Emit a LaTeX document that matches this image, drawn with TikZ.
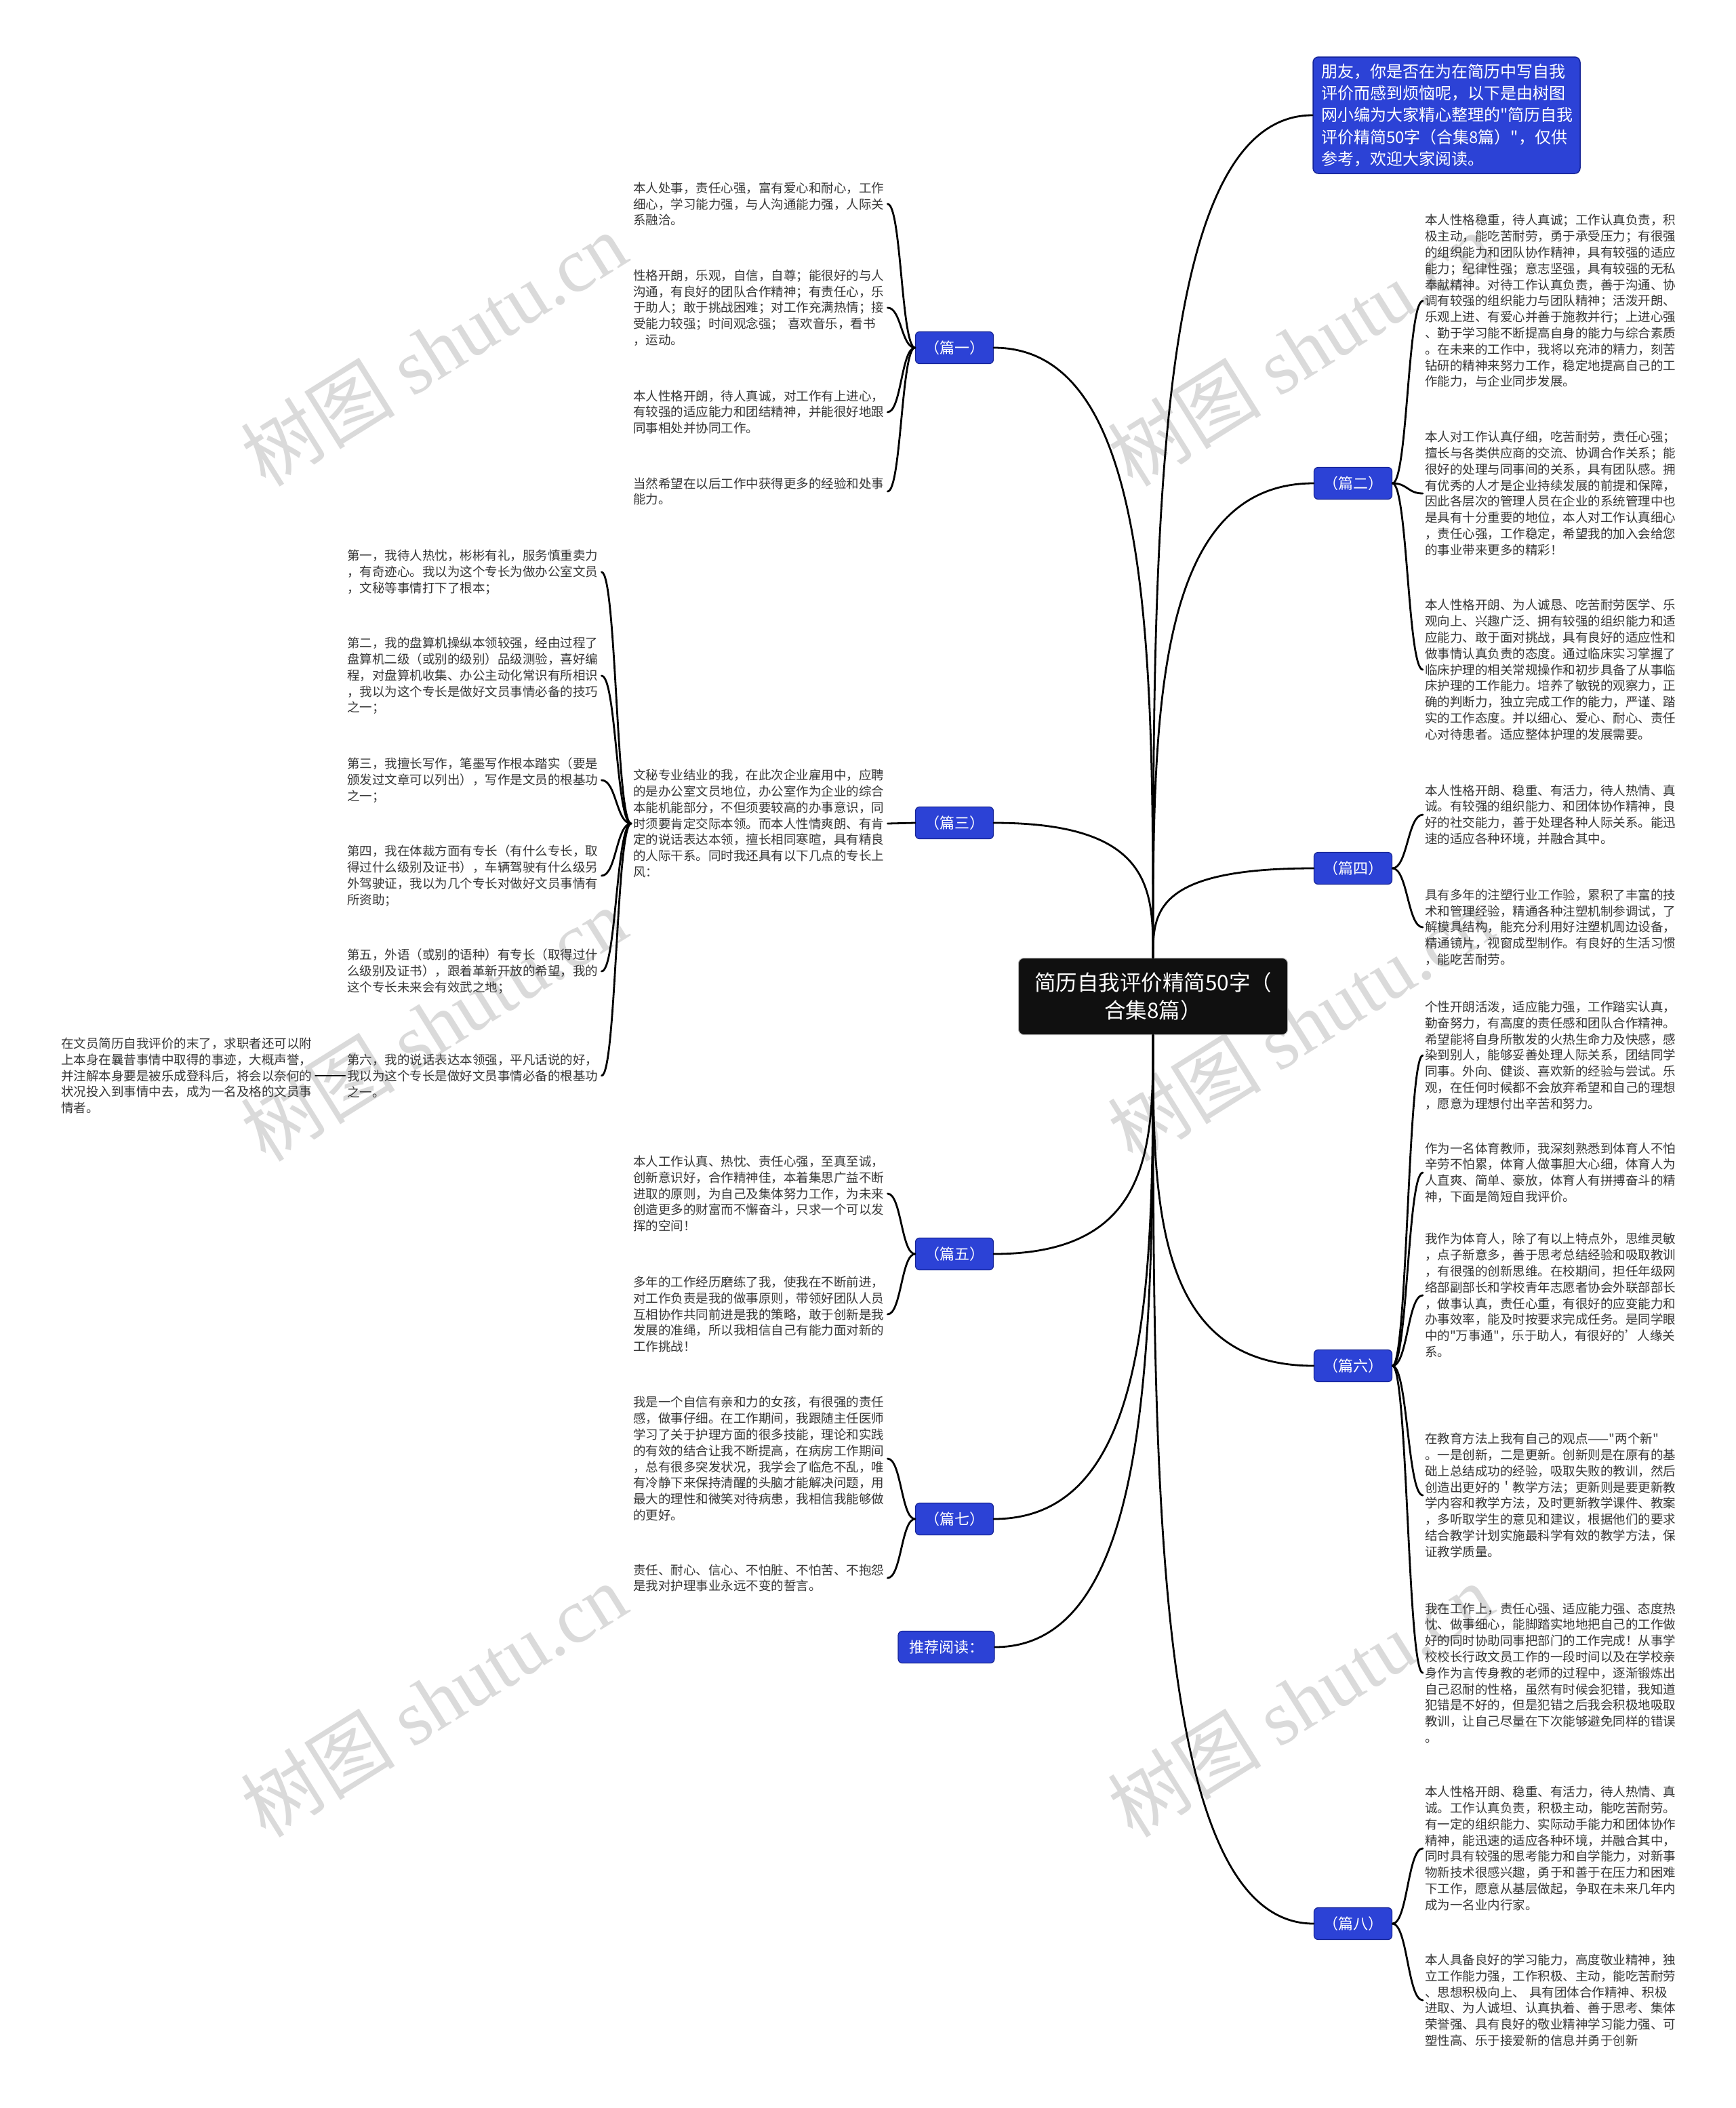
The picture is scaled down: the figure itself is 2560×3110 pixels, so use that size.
\documentclass[tikz,border=0pt]{standalone}
\usepackage{fontspec}
\setmainfont{Noto Sans CJK SC}[Ligatures=TeXOff]
\newfontfamily\wmlatin{Liberation Serif}
\usetikzlibrary{calc}
\definecolor{bblue}{RGB}{44,66,214}
\definecolor{bblueb}{RGB}{22,36,150}
\definecolor{leafc}{RGB}{55,55,55}
\definecolor{wmc}{RGB}{218,218,218}
\definecolor{cenfill}{RGB}{16,16,16}
\newcommand\sconn[2]{\path ($(#1)!0.5!(#2)$) coordinate (mm); \draw[conn] (#1) .. controls (mm |- #1) and (mm |- #2) .. (#2);}
\newcommand\vconn[2]{\path ($(#1)!0.5!(#2)$) coordinate (mm); \draw[conn] (#1) .. controls (#1 |- mm) and (#1 |- #2) .. (#2);}
\tikzset{
  conn/.style={line width=2.8pt, black, line cap=round},
  branch/.style={fill=bblue, draw=bblueb, line width=1.2pt, rounded corners=6pt, text=white,
    font=\fontsize{22}{26}\selectfont, minimum width=115pt, minimum height=47pt, inner sep=2pt},
  leaf/.style={text width=372pt, align=left, inner sep=3pt, text=leafc, anchor=west,
    font=\fontsize{18.5}{23.8}\selectfont},
  wm/.style={rotate=32, text=wmc, font=\fontsize{114}{114}\selectfont, inner sep=0pt},
}
\begin{document}
\begin{tikzpicture}[x=1pt,y=-1pt]
\fill[white] (0,0) rectangle (2560,3110);
\useasboundingbox (0,0) rectangle (2560,3110);

% watermarks
\node[wm] (wm1) at (640,515) {树图 {\wmlatin shutu.cn}};
\node[wm] (wm2) at (1918,515) {树图 {\wmlatin shutu.cn}};
\node[wm] (wm3) at (640,1511) {树图 {\wmlatin shutu.cn}};
\node[wm] (wm4) at (1918,1511) {树图 {\wmlatin shutu.cn}};
\node[wm] (wm5) at (640,2508) {树图 {\wmlatin shutu.cn}};
\node[wm] (wm6) at (1918,2508) {树图 {\wmlatin shutu.cn}};

% center
\node[fill=cenfill, draw=gray!60, line width=1pt, rounded corners=8pt, text=white, minimum width=397pt, minimum height=113pt, align=center, font=\fontsize{31.5}{41}\selectfont] (cen) at (1701,1470) {简历自我评价精简50字（\\合集8篇）};

% intro
\node[fill=bblue, draw=bblueb, line width=1.5pt, rounded corners=8pt, text=white, text width=370pt, inner xsep=12pt, inner ysep=10pt, align=left, font=\fontsize{24}{32.3}\selectfont] (intro) at (2134,170) {朋友，你是否在为在简历中写自我\\评价而感到烦恼呢，以下是由树图\\网小编为大家精心整理的"简历自我\\评价精简50字（合集8篇）"，仅供\\参考，欢迎大家阅读。};

% branches
\node[branch] (b1) at (1408,513) {（篇一）};
\node[branch] (b3) at (1408,1214) {（篇三）};
\node[branch] (b5) at (1408,1850) {（篇五）};
\node[branch] (b7) at (1408,2241) {（篇七）};
\node[branch, minimum width=142pt] (rec) at (1396,2430) {推荐阅读：};
\node[branch] (b2) at (1996,713) {（篇二）};
\node[branch] (b4) at (1996,1281) {（篇四）};
\node[branch] (b6) at (1996,2015) {（篇六）};
\node[branch] (b8) at (1996,2838) {（篇八）};

% 篇一 leaves
\node[leaf] (l1a) at (931,301) {本人处事，责任心强，富有爱心和耐心，工作\\细心，学习能力强，与人沟通能力强，人际关\\系融洽。};
\node[leaf] (l1b) at (931,454) {性格开朗，乐观，自信，自尊；能很好的与人\\沟通，有良好的团队合作精神；有责任心，乐\\于助人；敢于挑战困难；对工作充满热情；接\\受能力较强；时间观念强；\ 喜欢音乐，看书\\，运动。};
\node[leaf] (l1c) at (931,608) {本人性格开朗，待人真诚，对工作有上进心，\\有较强的适应能力和团结精神，并能很好地跟\\同事相处并协同工作。};
\node[leaf] (l1d) at (931,725) {当然希望在以后工作中获得更多的经验和处事\\能力。};

% 篇三
\node[leaf] (l3) at (931,1215) {文秘专业结业的我，在此次企业雇用中，应聘\\的是办公室文员地位，办公室作为企业的综合\\本能机能部分，不但须要较高的办事意识，同\\时须要肯定交际本领。而本人性情爽朗、有肯\\定的说话表达本领，擅长相同寒暄，具有精良\\的人际干系。同时我还具有以下几点的专长上\\风：};
\node[leaf] (l3a) at (509,844) {第一，我待人热忱，彬彬有礼，服务慎重卖力\\，有奇迹心。我以为这个专长为做办公室文员\\，文秘等事情打下了根本；};
\node[leaf] (l3b) at (509,997) {第二，我的盘算机操纵本领较强，经由过程了\\盘算机二级（或别的级别）品级测验，喜好编\\程，对盘算机收集、办公主动化常识有所相识\\，我以为这个专长是做好文员事情必备的技巧\\之一；};
\node[leaf] (l3c) at (509,1151) {第三，我擅长写作，笔墨写作根本踏实（要是\\颁发过文章可以列出），写作是文员的根基功\\之一；};
\node[leaf] (l3d) at (509,1292) {第四，我在体裁方面有专长（有什么专长，取\\得过什么级别及证书），车辆驾驶有什么级另\\外驾驶证，我以为几个专长对做好文员事情有\\所资助；};
\node[leaf] (l3e) at (509,1433) {第五，外语（或别的语种）有专长（取得过什\\么级别及证书），跟着革新开放的希望，我的\\这个专长未来会有效武之地；};
\node[leaf] (l3f) at (509,1587) {第六，我的说话表达本领强，平凡话说的好，\\我以为这个专长是做好文员事情必备的根基功\\之一。};
\node[leaf] (l3g) at (87,1587) {在文员简历自我评价的末了，求职者还可以附\\上本身在曩昔事情中取得的事迹，大概声誉，\\并注解本身要是被乐成登科后，将会以奈何的\\状况投入到事情中去，成为一名及格的文员事\\情者。};

% 篇五
\node[leaf] (l5a) at (931,1761) {本人工作认真、热忱、责任心强，至真至诚，\\创新意识好，合作精神佳，本着集思广益不断\\进取的原则，为自己及集体努力工作，为未来\\创造更多的财富而不懈奋斗，只求一个可以发\\挥的空间！};
\node[leaf] (l5b) at (931,1939) {多年的工作经历磨练了我，使我在不断前进，\\对工作负责是我的做事原则，带领好团队人员\\互相协作共同前进是我的策略，敢于创新是我\\发展的准绳，所以我相信自己有能力面对新的\\工作挑战！};

% 篇七
\node[leaf] (l7a) at (931,2152) {我是一个自信有亲和力的女孩，有很强的责任\\感，做事仔细。在工作期间，我跟随主任医师\\学习了关于护理方面的很多技能，理论和实践\\的有效的结合让我不断提高，在病房工作期间\\，总有很多突发状况，我学会了临危不乱，唯\\有冷静下来保持清醒的头脑才能解决问题，用\\最大的理性和微笑对待病患，我相信我能够做\\的更好。};
\node[leaf] (l7b) at (931,2328) {责任、耐心、信心、不怕脏、不怕苦、不抱怨\\是我对护理事业永远不变的誓言。};

% 篇二
\node[leaf] (l2a) at (2099,444) {本人性格稳重，待人真诚；工作认真负责，积\\极主动，能吃苦耐劳，勇于承受压力；有很强\\的组织能力和团队协作精神，具有较强的适应\\能力；纪律性强；意志坚强，具有较强的无私\\奉献精神。对待工作认真负责，善于沟通、协\\调有较强的组织能力与团队精神；活泼开朗、\\乐观上进、有爱心并善于施教并行；上进心强\\、勤于学习能不断提高自身的能力与综合素质\\。在未来的工作中，我将以充沛的精力，刻苦\\钻研的精神来努力工作，稳定地提高自己的工\\作能力，与企业同步发展。};
\node[leaf] (l2b) at (2099,728) {本人对工作认真仔细，吃苦耐劳，责任心强；\\擅长与各类供应商的交流、协调合作关系；能\\很好的处理与同事间的关系，具有团队感。拥\\有优秀的人才是企业持续发展的前提和保障，\\因此各层次的管理人员在企业的系统管理中也\\是具有十分重要的地位，本人对工作认真细心\\，责任心强，工作稳定，希望我的加入会给您\\的事业带来更多的精彩！};
\node[leaf] (l2c) at (2099,988) {本人性格开朗、为人诚恳、吃苦耐劳医学、乐\\观向上、兴趣广泛、拥有较强的组织能力和适\\应能力、敢于面对挑战，具有良好的适应性和\\做事情认真负责的态度。通过临床实习掌握了\\临床护理的相关常规操作和初步具备了从事临\\床护理的工作能力。培养了敏锐的观察力，正\\确的判断力，独立完成工作的能力，严谨、踏\\实的工作态度。并以细心、爱心、耐心、责任\\心对待患者。适应整体护理的发展需要。};

% 篇四
\node[leaf] (l4a) at (2099,1202) {本人性格开朗、稳重、有活力，待人热情、真\\诚。有较强的组织能力、和团体协作精神，良\\好的社交能力，善于处理各种人际关系。能迅\\速的适应各种环境，并融合其中。};
\node[leaf] (l4b) at (2099,1368) {具有多年的注塑行业工作验，累积了丰富的技\\术和管理经验，精通各种注塑机制参调试，了\\解模具结构，能充分利用好注塑机周边设备，\\精通镜片，视窗成型制作。有良好的生活习惯\\，能吃苦耐劳。};

% 篇六
\node[leaf] (l6a) at (2099,1557) {个性开朗活泼，适应能力强，工作踏实认真，\\勤奋努力，有高度的责任感和团队合作精神。\\希望能将自身所散发的火热生命力及快感，感\\染到别人，能够妥善处理人际关系，团结同学\\同事。外向、健谈、喜欢新的经验与尝试。乐\\观，在任何时候都不会放弃希望和自己的理想\\，愿意为理想付出辛苦和努力。};
\node[leaf] (l6b) at (2099,1730) {作为一名体育教师，我深刻熟悉到体育人不怕\\辛劳不怕累，体育人做事胆大心细，体育人为\\人直爽、简单、豪放，体育人有拼搏奋斗的精\\神，下面是简短自我评价。};
\node[leaf] (l6c) at (2099,1911) {我作为体育人，除了有以上特点外，思维灵敏\\，点子新意多，善于思考总结经验和吸取教训\\，有很强的创新思维。在校期间，担任年级网\\络部副部长和学校青年志愿者协会外联部部长\\，做事认真，责任心重，有很好的应变能力和\\办事效率，能及时按要求完成任务。是同学眼\\中的"万事通"，乐于助人，有很好的’人缘关\\系。};
\node[leaf] (l6d) at (2099,2206) {在教育方法上我有自己的观点——"两个新"\\。一是创新，二是更新。创新则是在原有的基\\础上总结成功的经验，吸取失败的教训，然后\\创造出更好的＇教学方法；更新则是要更新教\\学内容和教学方法，及时更新教学课件、教案\\，多听取学生的意见和建议，根据他们的要求\\结合教学计划实施最科学有效的教学方法，保\\证教学质量。};
\node[leaf] (l6e) at (2099,2468) {我在工作上，责任心强、适应能力强、态度热\\忱、做事细心，能脚踏实地地把自己的工作做\\好的同时协助同事把部门的工作完成！从事学\\校校长行政文员工作的一段时间以及在学校亲\\身作为言传身教的老师的过程中，逐渐锻炼出\\自己忍耐的性格，虽然有时候会犯错，我知道\\犯错是不好的，但是犯错之后我会积极地吸取\\教训，让自己尽量在下次能够避免同样的错误\\。};

% 篇八
\node[leaf] (l8a) at (2099,2727) {本人性格开朗、稳重、有活力，待人热情、真\\诚。工作认真负责，积极主动，能吃苦耐劳。\\有一定的组织能力、实际动手能力和团体协作\\精神，能迅速的适应各种环境，并融合其中，\\同时具有较强的思考能力和自学能力，对新事\\物新技术很感兴趣，勇于和善于在压力和困难\\下工作，愿意从基层做起，争取在未来几年内\\成为一名业内行家。};
\node[leaf] (l8b) at (2099,2951) {本人具备良好的学习能力，高度敬业精神，独\\立工作能力强，工作积极、主动，能吃苦耐劳\\、思想积极向上、\ 具有团体合作精神、积极\\进取、为人诚坦、认真执着、善于思考、集体\\荣誉强、具有良好的敬业精神学习能力强、可\\塑性高、乐于接爱新的信息并勇于创新};

% center connectors
\vconn{cen.north}{intro.west}
\vconn{cen.north}{b2.west}
\vconn{cen.north}{b4.west}
\vconn{cen.south}{b6.west}
\vconn{cen.south}{b8.west}
\vconn{cen.north}{b1.east}
\vconn{cen.north}{b3.east}
\vconn{cen.south}{b5.east}
\vconn{cen.south}{b7.east}
\vconn{cen.south}{rec.east}

% branch to leaves
\sconn{b1.west}{l1a.east}
\sconn{b1.west}{l1b.east}
\sconn{b1.west}{l1c.east}
\sconn{b1.west}{l1d.east}
\draw[conn] (b3.west) -- (l3.east);
\sconn{l3.west}{l3a.east}
\sconn{l3.west}{l3b.east}
\sconn{l3.west}{l3c.east}
\sconn{l3.west}{l3d.east}
\sconn{l3.west}{l3e.east}
\sconn{l3.west}{l3f.east}
\draw[conn] (l3f.west) -- (l3g.east);
\sconn{b5.west}{l5a.east}
\sconn{b5.west}{l5b.east}
\sconn{b7.west}{l7a.east}
\sconn{b7.west}{l7b.east}
\sconn{b2.east}{l2a.west}
\sconn{b2.east}{l2b.west}
\sconn{b2.east}{l2c.west}
\sconn{b4.east}{l4a.west}
\sconn{b4.east}{l4b.west}
\sconn{b6.east}{l6a.west}
\sconn{b6.east}{l6b.west}
\sconn{b6.east}{l6c.west}
\sconn{b6.east}{l6d.west}
\sconn{b6.east}{l6e.west}
\sconn{b8.east}{l8a.west}
\sconn{b8.east}{l8b.west}
\end{tikzpicture}
\end{document}
